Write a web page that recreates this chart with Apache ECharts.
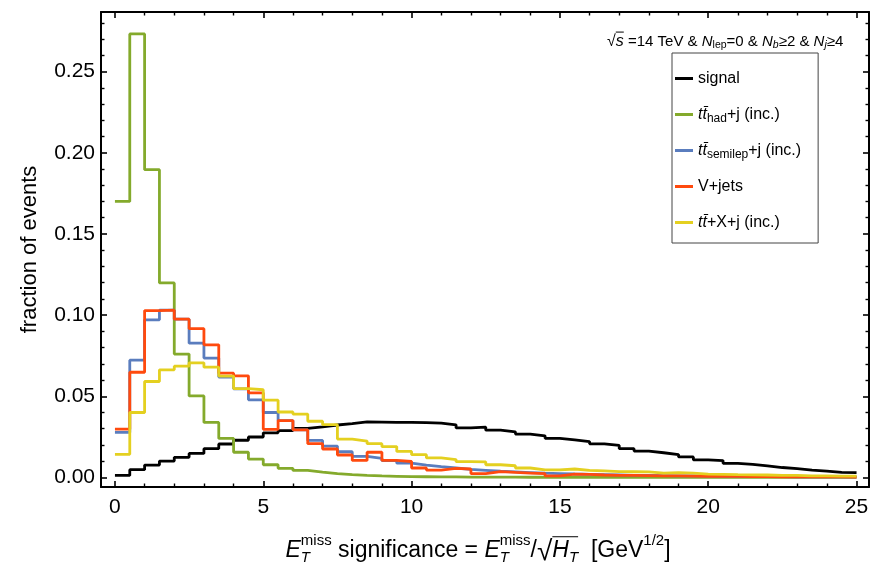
<!DOCTYPE html>
<html>
<head>
<meta charset="utf-8">
<script src="https://cdn.jsdelivr.net/npm/echarts@6/dist/echarts.min.js"></script>
<style>
  html, body { margin: 0; padding: 0; background: #ffffff; }
  #chart { width: 872px; height: 576px; }
</style>
</head>
<body>
<div id="chart"></div>
<script>
// Histogram bins: width 0.5, starting at 0 (50 bins up to 25)
const binWidth = 0.5;

const signal = [0.0012, 0.0048, 0.0076, 0.0101, 0.0124, 0.0148, 0.0177, 0.0206, 0.0229, 0.0249,
  0.0275, 0.0288, 0.0302, 0.0311, 0.0323, 0.0332, 0.0342, 0.0341, 0.0339, 0.0339,
  0.0337, 0.0334, 0.0324, 0.0305, 0.0310, 0.0291, 0.0281, 0.0267, 0.0256, 0.0241,
  0.0231, 0.0221, 0.0207, 0.0197, 0.0177, 0.0162, 0.0152, 0.0141, 0.0126, 0.0108,
  0.0104, 0.0087, 0.0081, 0.0071, 0.0061, 0.0054, 0.0045, 0.0039, 0.0031, 0.0030];

const ttHad = [0.1700, 0.2732, 0.1896, 0.1198, 0.0760, 0.0502, 0.0339, 0.0240, 0.0155, 0.0113,
  0.0078, 0.0056, 0.0043, 0.0032, 0.0023, 0.0017, 0.0012, 0.0009, 0.0007, 0.0005,
  0.0004, 0.0003, 0.0003, 0.0002, 0.0002, 0.0002, 0.0002, 0.0001, 0.0001, 0.0001,
  0.0001, 0.0001, 0.0001, 0.0001, 0.0001, 0.0001, 0.0001, 0.0001, 0.0001, 0.0001,
  0.0001, 0.0001, 0.0001, 0.0001, 0.0001, 0.0001, 0.0001, 0.0001, 0.0001, 0.0001];

const ttSemilep = [0.0277, 0.0722, 0.0971, 0.1030, 0.0975, 0.0827, 0.0735, 0.0618, 0.0546, 0.0478,
  0.0400, 0.0350, 0.0293, 0.0228, 0.0193, 0.0158, 0.0130, 0.0118, 0.0103, 0.0088,
  0.0076, 0.0066, 0.0058, 0.0050, 0.0044, 0.0038, 0.0034, 0.0030, 0.0026, 0.0024,
  0.0021, 0.0019, 0.0017, 0.0015, 0.0013, 0.0012, 0.0011, 0.0010, 0.0009, 0.0008,
  0.0007, 0.0007, 0.0006, 0.0005, 0.0005, 0.0004, 0.0004, 0.0003, 0.0003, 0.0003];

const vJets = [0.0297, 0.0648, 0.1028, 0.1030, 0.0975, 0.0916, 0.0817, 0.0642, 0.0626, 0.0521,
  0.0296, 0.0350, 0.0293, 0.0208, 0.0175, 0.0138, 0.0105, 0.0155, 0.0105, 0.0098,
  0.0058, 0.0045, 0.0056, 0.0052, 0.0024, 0.0036, 0.0031, 0.0027, 0.0023, 0.0009,
  0.0020, 0.0019, 0.0015, 0.0013, 0.0012, 0.0011, 0.0010, 0.0009, 0.0008, 0.0007,
  0.0007, 0.0006, 0.0005, 0.0005, 0.0004, 0.0004, 0.0003, 0.0003, 0.0003, 0.0002];

const ttX = [0.0142, 0.0400, 0.0591, 0.0663, 0.0685, 0.0706, 0.0679, 0.0624, 0.0547, 0.0540,
  0.0476, 0.0403, 0.0390, 0.0346, 0.0325, 0.0236, 0.0224, 0.0208, 0.0190, 0.0160,
  0.0140, 0.0120, 0.0110, 0.0097, 0.0096, 0.0078, 0.0072, 0.0058, 0.0046, 0.0046,
  0.0052, 0.0044, 0.0040, 0.0036, 0.0035, 0.0034, 0.0026, 0.0030, 0.0026, 0.0020,
  0.0019, 0.0017, 0.0016, 0.0015, 0.0013, 0.0012, 0.0010, 0.0009, 0.0008, 0.0008];

// Tick positions and labels
const xMajorTicks = [0, 5, 10, 15, 20, 25];
const xMinorTicks = [1, 2, 3, 4, 6, 7, 8, 9, 11, 12, 13, 14, 16, 17, 18, 19, 21, 22, 23, 24];
const yMajorTicks = [0, 0.05, 0.10, 0.15, 0.20, 0.25];
const yMinorTicks = [0.01, 0.02, 0.03, 0.04, 0.06, 0.07, 0.08, 0.09, 0.11, 0.12, 0.13, 0.14,
  0.16, 0.17, 0.18, 0.19, 0.21, 0.22, 0.23, 0.24, 0.26, 0.27, 0.28];

const FONT = "'Liberation Sans', Arial, Helvetica, sans-serif";
const X_RANGE = [-0.47, 25.42];
const Y_RANGE = [-0.0059, 0.2867];

// Turn per-bin values into step-line points (left bin edges plus closing edge)
function steps(values) {
  const pts = values.map((v, i) => [i * binWidth, v]);
  pts.push([values.length * binWidth, values[values.length - 1]]);
  return pts;
}

const seriesDefs = [
  { key: 'signal', data: signal, color: '#000000' },
  { key: 'had', data: ttHad, color: '#84AA2C' },
  { key: 'semilep', data: ttSemilep, color: '#5A7DBE' },
  { key: 'vjets', data: vJets, color: '#FF4A0E' },
  { key: 'ttx', data: ttX, color: '#E4D020' }
];

const TT = 't' + 't\u0304';
const legendLabels = {
  signal: 'signal',
  had: '{it|' + TT + '}{sub|had}+j (inc.)',
  semilep: '{it|' + TT + '}{sub|semilep}+j (inc.)',
  vjets: 'V+jets',
  ttx: '{it|' + TT + '}+X+j (inc.)'
};

// Text layout with sub/superscripts, measured on a canvas
const mctx = document.createElement('canvas').getContext('2d');
function fontStr(p) { return (p.it ? 'italic ' : '') + p.s + 'px ' + FONT; }
function width(p) { mctx.font = fontStr(p); return mctx.measureText(p.t).width; }

// items: piece {t,s,it,dy,over} or {stack:[pieceA,pieceB]}
function layout(items, x0, yc, align) {
  let total = 0;
  const ws = items.map(it => it.stack ? Math.max(width(it.stack[0]), width(it.stack[1])) : width(it));
  ws.forEach(w => total += w);
  let x = align === 'center' ? x0 - total / 2 : x0;
  const els = [];
  let overStart = null, overEnd = null, overTop = null;
  items.forEach((it, i) => {
    const list = it.stack ? it.stack : [it];
    list.forEach(p => {
      els.push({
        type: 'text', x: x, y: yc + (p.dy || 0), silent: true,
        style: { text: p.t, font: fontStr(p), fill: '#000', align: 'left', verticalAlign: 'middle' }
      });
      if (p.over) {
        if (overStart === null) overStart = x + (p.overPad || 0);
        overEnd = x + width(p);
        const top = yc + (p.dy || 0) - p.s * 0.62;
        overTop = overTop === null ? top : Math.min(overTop, top);
      }
    });
    x += ws[i];
  });
  if (overStart !== null) {
    els.push({ type: 'line', silent: true,
      shape: { x1: overStart, y1: overTop, x2: overEnd, y2: overTop },
      style: { stroke: '#000', lineWidth: 1 } });
  }
  return els;
}

// Selection annotation above the legend
const topNote = layout([
  { t: '\u221A', s: 16 },
  { t: 's', s: 16, it: true, over: true },
  { t: ' =14 TeV & ', s: 15 },
  { t: 'N', s: 15, it: true },
  { t: 'lep', s: 10.5, dy: 3.5 },
  { t: '=0 & ', s: 15 },
  { t: 'N', s: 15, it: true },
  { t: 'b', s: 10.5, it: true, dy: 3.5 },
  { t: '\u22652 & ', s: 15 },
  { t: 'N', s: 15, it: true },
  { t: 'j', s: 10.5, it: true, dy: 3.5 },
  { t: '\u22654', s: 15 }
], 607, 42, 'left');

// Horizontal axis title
const xTitle = layout([
  { t: 'E', s: 23, it: true },
  { stack: [{ t: 'miss', s: 15, dy: -10 }, { t: 'T', s: 15, it: true, dy: 7 }] },
  { t: ' significance = ', s: 23 },
  { t: 'E', s: 23, it: true },
  { stack: [{ t: 'miss', s: 15, dy: -10 }, { t: 'T', s: 15, it: true, dy: 7 }] },
  { t: '/', s: 23 },
  { t: '\u221A', s: 28, dy: 1 },
  { t: 'H', s: 23, it: true, over: true },
  { t: 'T', s: 15, it: true, dy: 7, over: true },
  { t: '  [GeV', s: 23 },
  { t: '1/2', s: 15, dy: -10 },
  { t: ']', s: 23 }
], 478, 551, 'center');

function axisPair(kind, pos, major, minor, showLabels) {
  const common = {
    type: 'value', position: pos,
    min: kind === 'x' ? X_RANGE[0] : Y_RANGE[0],
    max: kind === 'x' ? X_RANGE[1] : Y_RANGE[1],
    splitLine: { show: false }
  };
  const a = Object.assign({}, common, {
    axisLine: { show: true, onZero: false, lineStyle: { color: '#000', width: 2 } },
    axisTick: { show: true, inside: true, length: 6, customValues: major, lineStyle: { color: '#000', width: 1.6 } },
    axisLabel: showLabels ? {
      show: true, customValues: major, color: '#000', fontSize: 21, fontFamily: FONT,
      margin: kind === 'x' ? 10 : 6,
      formatter: v => kind === 'x' ? String(Math.round(v)) : v.toFixed(2)
    } : { show: false }
  });
  const b = Object.assign({}, common, {
    axisLine: { show: false, onZero: false },
    axisTick: { show: true, inside: true, length: 3.5, customValues: minor, lineStyle: { color: '#000', width: 1.4 } },
    axisLabel: { show: false }
  });
  return [a, b];
}

const xAxes = axisPair('x', 'bottom', xMajorTicks, xMinorTicks, true)
  .concat(axisPair('x', 'top', xMajorTicks, xMinorTicks, false));
const yAxes = axisPair('y', 'left', yMajorTicks, yMinorTicks, true)
  .concat(axisPair('y', 'right', yMajorTicks, yMinorTicks, false));
yAxes[0].name = 'fraction of events';
yAxes[0].nameLocation = 'middle';
yAxes[0].nameRotate = 90;
yAxes[0].nameGap = 60;
yAxes[0].nameTextStyle = { color: '#000', fontSize: 22, fontFamily: FONT };

const chart = echarts.init(document.getElementById('chart'), null, { renderer: 'canvas' });
chart.setOption({
  backgroundColor: '#ffffff',
  animation: false,
  grid: { left: 101, right: 3, top: 12, bottom: 89, containLabel: false },
  xAxis: xAxes,
  yAxis: yAxes,
  legend: {
    orient: 'vertical', left: 672, top: 53,
    padding: [15, 17, 10, 3], itemGap: 15,
    itemWidth: 18, itemHeight: 3, icon: 'rect',
    borderColor: '#444', borderWidth: 1, backgroundColor: '#fff',
    data: seriesDefs.map(d => d.key),
    formatter: name => legendLabels[name],
    textStyle: {
      color: '#000', fontSize: 16, fontFamily: FONT, lineHeight: 21,
      rich: {
        it: { fontSize: 16, fontStyle: 'italic', fontFamily: FONT, lineHeight: 21 },
        sub: { fontSize: 12, fontFamily: FONT, verticalAlign: 'bottom', lineHeight: 15 }
      }
    }
  },
  graphic: topNote.concat(xTitle),
  series: seriesDefs.map(d => ({
    name: d.key, type: 'line', step: 'end', data: steps(d.data),
    xAxisIndex: 0, yAxisIndex: 0,
    showSymbol: false, symbol: 'none',
    lineStyle: { color: d.color, width: 2.8 },
    itemStyle: { color: d.color },
    clip: true
  }))
});
</script>
</body>
</html>
